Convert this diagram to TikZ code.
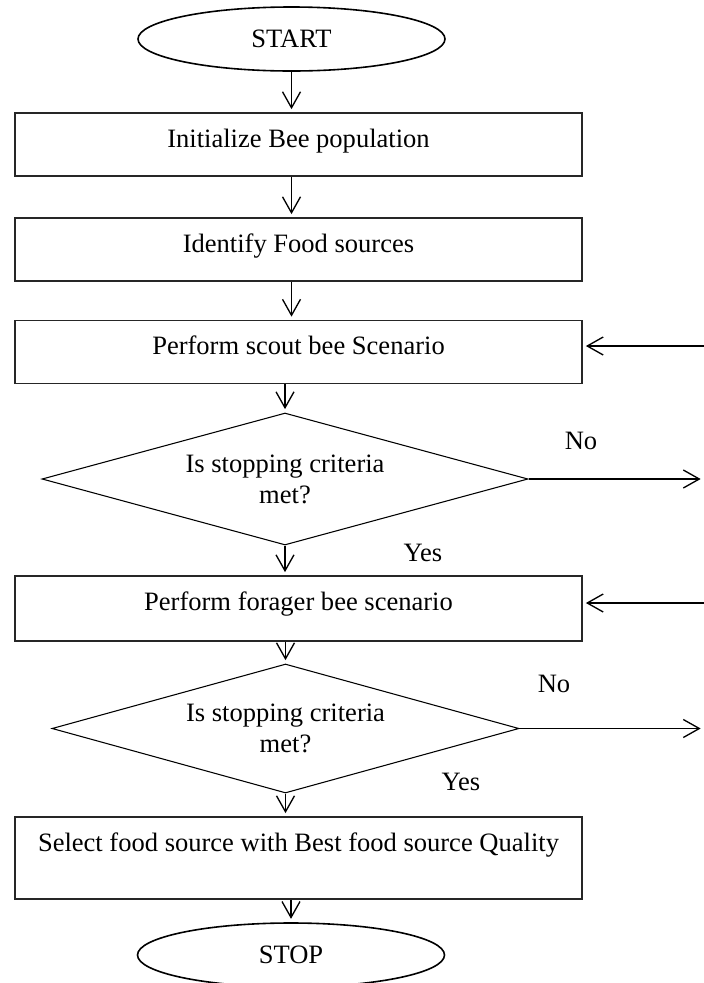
\documentclass[tikz,border=0pt]{standalone}
\usepackage{fontspec}
\setmainfont{Liberation Serif}
\usetikzlibrary{shapes.geometric,arrows.meta}

\begin{document}
\begin{tikzpicture}[x=0.75pt,y=-0.75pt,
  font=\fontsize{19.9}{23.25}\selectfont,
  proc/.style={draw=black!85,line width=0.8pt,rectangle,minimum width=425.25pt,
    inner sep=0pt,text height=25.5pt,text depth=21.75pt},
  term/.style={draw,line width=1.2pt,ellipse,minimum width=230.25pt,
    minimum height=48pt,inner sep=0pt},
  decide/.style={draw,line width=0.8pt,diamond,inner sep=0pt,align=center},
  arr/.style={-{Straight Barb[length=12pt,width=13.5pt]},line width=1pt,shorten >=2.5pt},
  lbl/.style={anchor=base}]
\useasboundingbox (0,0) rectangle (704,983);
% main column
\node[term] (start) at (291.5,39) {START};
\node[proc] (init) at (298.5,144.5) {Initialize Bee population};
\node[proc] (food) at (298.5,249.5) {Identify Food sources};
\node[proc] (scout) at (298.5,352) {Perform scout bee Scenario};
\node[decide,aspect=3.68,minimum width=364.5pt,minimum height=99pt] (check1) at (285,479)
  {Is stopping criteria\\met?};
\node[proc,text depth=23.25pt] (forager) at (298.5,608.5) {Perform forager bee scenario};
\node[decide,aspect=3.62,minimum width=350.25pt,minimum height=96.75pt] (check2) at (285.5,728.5)
  {Is stopping criteria\\met?};
\node[proc,text depth=36pt] (select) at (298.5,858) {Select food source with Best food source Quality};
\node[term] (stop) at (291,955) {STOP};
% labels
\node[lbl] (no1) at (581,449) {No};
\node[lbl] (yes1) at (423,561) {Yes};
\node[lbl] (no2) at (554,692) {No};
\node[lbl] (yes2) at (461,790) {Yes};
% loose ends at the right edge
\coordinate (out1) at (704,479);
\coordinate (back1) at (704,346);
\coordinate (out2) at (704,728.5);
\coordinate (back2) at (704,603);
% connectors
\draw[arr] (start.south) -- (start.south |- init.north);
\foreach \a/\b in {init/food,food/scout}
\draw[arr] (start.south |- \a.south) -- (start.south |- \b.north);
\draw[arr] (check1.north |- scout.south) -- (check1.north);
\draw[arr] (check1.south) -- (check1.south |- forager.north);
\draw[arr] (check2.north |- forager.south) -- (check2.north);
\draw[arr] (check2.south) -- (check2.south |- select.north);
\draw[arr] (stop.north |- select.south) -- (stop.north);
\draw[arr] (check1.east) -- (out1);
\draw[arr] (check2.east) -- (out2);
\draw[arr] (back1) -- (back1 -| scout.east);
\draw[arr] (back2) -- (back2 -| forager.east);
\end{tikzpicture}
\end{document}
